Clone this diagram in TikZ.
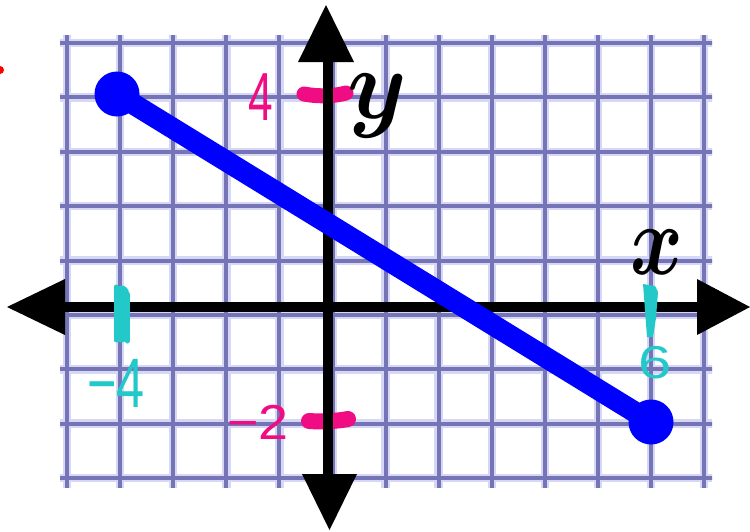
\documentclass[tikz,border=0pt]{standalone}
\usepackage{fontspec}
\newfontfamily\handfont{Liberation Sans}
\definecolor{gridhalo}{RGB}{214,214,245}
\definecolor{gridcore}{RGB}{116,116,182}
\definecolor{hotpink}{RGB}{240,12,130}
\definecolor{tealmark}{RGB}{35,200,200}
\definecolor{plotblue}{RGB}{0,0,255}
\tikzset{
  gridhalo/.style={draw=gridhalo, line width=8.5pt},
  gridcore/.style={draw=gridcore, line width=4pt},
  axisline/.style={draw=black, line width=10.5pt},
  axishead/.style={fill=black},
  segline/.style={draw=plotblue, line width=21pt},
  enddot/.style={circle, fill=plotblue, minimum size=45pt, inner sep=0pt},
  pinkstroke/.style={draw=hotpink, line width=15pt, line cap=round},
  tealstroke/.style={draw=tealmark, line width=15pt, line cap=round},
  handlabel/.style={inner sep=0pt, font=\handfont},
  axlabel/.style={inner sep=0pt, anchor=base}
}
\begin{document}
\begin{tikzpicture}[x=1pt, y=-1pt]
\useasboundingbox (0,0) rectangle (750,531);
% grid
\begin{scope}
  \clip (60,35) rectangle (712,487);
  \foreach \i in {0,...,12} {
    \draw[gridhalo] ({67+53.1*\i},30) -- ({67+53.1*\i},492);
  }
  \foreach \j in {0,...,8} {
    \draw[gridhalo] (55,{43+54.375*\j}) -- (717,{43+54.375*\j});
  }
  \foreach \i in {0,...,12} {
    \draw[gridcore] ({67+53.1*\i},30) -- ({67+53.1*\i},492);
  }
  \foreach \j in {0,...,8} {
    \draw[gridcore] (55,{43+54.375*\j}) -- (717,{43+54.375*\j});
  }
\end{scope}
% pink ticks on y axis (under the axis)
\coordinate (p4a) at (304,94);
\coordinate (p4b) at (346,93);
\coordinate (p2a) at (309,421);
\coordinate (p2b) at (348,419);
\draw[pinkstroke] (p4a) .. controls (320,97) and (335,96) .. (p4b);
\draw[pinkstroke, line width=16pt] (p2a) .. controls (322,422) and (338,421) .. (p2b);
% axes
\coordinate (xl) at (64,307);
\coordinate (xr) at (698,307);
\coordinate (yt) at (328,61);
\coordinate (yb) at (328,475);
\draw[axisline] (xl) -- (xr);
\draw[axisline] (yt) -- (yb);
\fill[axishead] (7,307) -- (65,279) -- (65,335) -- cycle;
\fill[axishead] (750,307) -- (697,279) -- (697,335) -- cycle;
\fill[axishead] (326,5) -- (298,62) -- (354,62) -- cycle;
\fill[axishead] (329.5,530) -- (302,474) -- (357,474) -- cycle;
% segment
\node[enddot] (A) at (117,94) {};
\node[enddot] (B) at (651,422) {};
\draw[segline] (A.center) -- (B.center);
% teal ticks on x axis
\coordinate (t1a) at (121,293);
\coordinate (t1b) at (121,335);
\draw[tealstroke] (t1a) -- (t1b);
\draw[tealmark, line width=5pt, line cap=round] (116,287) -- (116,340);
\draw[tealmark, line width=5pt, line cap=round] (127,294) -- (127,341);
\fill[tealmark] (643,284) -- (655,286) -- (658,292) -- (656,318) -- (653,337) -- (647,337) -- (645,310) -- cycle;
% handwritten numbers
\node[handlabel, text=hotpink] (n4) at (261,97) {\fontsize{68}{68}\selectfont\scalebox{0.65}[1]{4}};
\node[handlabel, text=hotpink] (n2) at (258,422) {\fontsize{49}{49}\selectfont\scalebox{1.1}[1]{−2}};
\node[handlabel, text=tealmark] (nm4) at (116,383) {\fontsize{70}{70}\selectfont\scalebox{0.72}[1]{−4}};
\node[handlabel, text=tealmark] (n6) at (655,363) {\fontsize{46}{46}\selectfont\scalebox{1.3}[1]{6}};
% axis labels
\node[axlabel] (ylab) at (377,118) {\scalebox{9.5}[10]{\boldmath$y$}};
\node[axlabel] (xlab) at (657,274) {\scalebox{8}[10]{\boldmath$x$}};
% stray red mark
\fill[red] (0,70) circle (4);
\end{tikzpicture}
\end{document}
